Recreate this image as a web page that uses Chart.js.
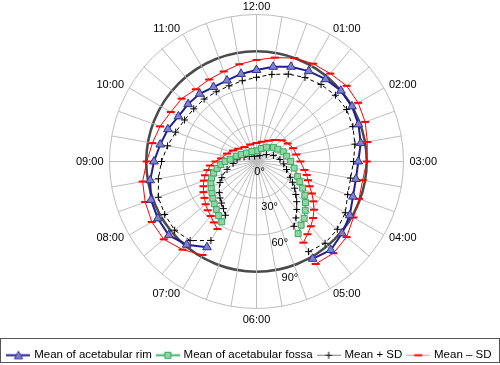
<!DOCTYPE html>
<html>
<head>
<meta charset="utf-8">
<script src="https://cdn.jsdelivr.net/npm/chart.js@4.4.1/dist/chart.umd.min.js"></script>
<style>
html,body{margin:0;padding:0;background:#ffffff;}
#wrap{width:500px;height:365px;position:relative;}
</style>
</head>
<body>
<div id="wrap"><canvas id="c" width="500" height="365"></canvas></div>
<script>
// ---- labels ----
const hourLabels = ['12:00','01:00','02:00','03:00','04:00','05:00','06:00','07:00','08:00','09:00','10:00','11:00'];
const tickValues = [0, 30, 60, 90];
const seriesNames = ['Mean of acetabular rim', 'Mean of acetabular fossa', 'Mean + SD', 'Mean \u2013 SD'];

// categories: rim every 20 min (10 deg), fossa every 10 min (5 deg)
const rimCategories = hourLabels.flatMap(h => ['00','20','40'].map(m => h.slice(0, 3) + m));
const fossaCategories = hourLabels.flatMap(h => ['00','10','20','30','40','50'].map(m => h.slice(0, 3) + m));

// ---- rim series (36 positions, clockwise from 12:00) ----
const rimMean = [74.7, 78.5, 82.3, 85.2, 87.7, 89.9, 90, 88.6, 86.4, 83.1, 82.4, 83.8, 87.9, 91.2, 94.3, 91.7,
  null, null, null, null, null,
  80.8, 88.7, 93.5, 93, 91.7, 88.1, 83.7, 79.8, 77, 73.6, 72.9, 72.2, 70.2, 70.4, 72.6];
const rimPlusSD = [68.7, 72.2, 75.9, 79.2, 82, 84.1, 84.9, 83.7, 81.6, 79.2, 78, 79.2, 83.7, 86.1, 87.1, 85,
  null, null, null, null, null,
  74.4, 84.3, 87.2, 86.5, 85.3, 81.3, 77.6, 73.7, 70.2, 67.8, 66.9, 66.5, 65.7, 65.7, 66.9];
const rimMinusSD = [82.9, 86.1, 89.9, 92.2, 93.7, 96.1, 95.8, 94.4, 91.9, 90, 88, 89.1, 91.4, 96, 97.7, 96.6,
  null, null, null, null, null,
  88.1, 93.9, 98.8, 98.7, 96.7, 94.4, 89.6, 86.3, 83.8, 80.8, 79.8, 77, 77.3, 78.2, 80.6];

// ---- fossa series (72 positions, clockwise from 12:00) ----
const fossaMean = [8.8, 9.4, 10, 10.6, 11.3, 12.1, 13.2, 14.2, 15.1, 16.6, 18, 19, 20.1, 21.6, 23.2, 24.1,
  25, 26.5, 27.9, 29.4, 31.2, 33.3, 35.7, 39, 43.4, 48.1, 52.2, 56.3, 60.6, 63.5, 68,
  null, null, null, null, null, null, null, null, null, null, null,
  56.8, 54, 51, 48.8, 46.6, 44.4, 42.7, 41.1, 39, 36.3, 32.7, 29.3, 25.7, 21.6, 19.4, 17.1,
  15, 13.7, 12.7, 11.5, 10.7, 10.4, 10, 9.6, 9.2, 9, 9, 9.1, 9.1, 9.3];
const fossaPlusSD = [4.3, 4.4, 4.5, 4.6, 4.7, 5.1, 5.5, 6, 6.7, 7.6, 8.6, 9.8, 11.3, 12.9, 14.7, 16.3,
  17.6, 19.2, 20.9, 22.3, 23.9, 25.4, 27.8, 30.4, 33.9, 38, 41.9, 46.4, 51.1, 56.2, 61.1,
  null, null, null, null, null, null, null, null, null, null, null,
  50.7, 47, 44.3, 42.1, 39.6, 37.1, 34.4, 31.2, 28.2, 24.9, 21.6, 19.2, 17.6, 15.9, 14, 12.6,
  10.8, 9.3, 8.2, 7.2, 6.4, 5.9, 5.4, 5.1, 4.9, 4.7, 4.6, 4.5, 4.4, 4.3];
const fossaMinusSD = [15.1, 15.5, 16.2, 16.7, 17.4, 18.1, 19.6, 20.9, 22.9, 25.1, 26.9, 28.3, 29.4, 30.7, 31.8, 32.3,
  33, 34.1, 35.9, 37.5, 39.7, 42.4, 44.7, 47.8, 52.2, 56.7, 61.2, 65.3, 69, 72.5, 76.5,
  null, null, null, null, null, null, null, null, null, null, null,
  63.7, 60.7, 58.1, 56.3, 54.3, 51.8, 50, 47.8, 45.7, 43.5, 40.5, 38, 33.5, 29, 26.9, 24.9,
  23.1, 21.2, 19.6, 18.2, 17, 16, 15.3, 14.9, 14.7, 14.7, 14.8, 14.9, 14.9, 15];

// ---- styles ----
const FONT = 'Liberation Sans, Arial, Helvetica, sans-serif';
const C = {
  rimLine: '#1f1f8f', rimFill: '#8080c8', rimEdge: '#30309a',
  fossaLine: '#3fb56e', fossaFill: '#8fd6a3', fossaEdge: '#3aa863',
  plus: '#000000', minus: '#ff0000',
  grid: '#bdbdbd', ring90: '#4a4a4a'
};

// marker thinning along the contour for the dense inner curves (style only)
function markerMask(values, stepDeg, minGap) {
  const n = values.length;
  const pts = values.map((v, i) => v == null ? null :
    {x: v * Math.sin(i * stepDeg * Math.PI / 180), y: -v * Math.cos(i * stepDeg * Math.PI / 180)});
  let start = pts.findIndex((p, i) => p && !pts[(i - 1 + n) % n]);
  if (start < 0) start = 0;
  const mask = new Array(n).fill(false);
  let acc = 0, prev = null, first = true;
  for (let k = 0; k < n; k++) {
    const i = (start + k) % n;
    const p = pts[i];
    if (!p) break;
    if (prev) acc += Math.hypot(p.x - prev.x, p.y - prev.y);
    if (first || acc >= minGap) { mask[i] = true; acc = 0; first = false; }
    prev = p;
  }
  return mask;
}
const maskFossa = markerMask(fossaMean, 5, 3.8);
const maskFossaPlus = markerMask(fossaPlusSD, 5, 4.2);
const maskFossaMinus = markerMask(fossaMinusSD, 5, 4.2);

// legend symbols (line + marker)
function legendSymbol(kind) {
  const cv = document.createElement('canvas');
  cv.width = 24; cv.height = 11;
  const g = cv.getContext('2d');
  const y = 5.5;
  g.lineCap = 'butt';
  if (kind === 0) {
    g.strokeStyle = C.rimLine; g.lineWidth = 2;
    g.beginPath(); g.moveTo(0, y); g.lineTo(24, y); g.stroke();
    g.fillStyle = C.rimFill; g.strokeStyle = C.rimEdge; g.lineWidth = 1;
    g.beginPath(); g.moveTo(12, 1.5); g.lineTo(16.2, 9); g.lineTo(7.8, 9); g.closePath(); g.fill(); g.stroke();
  } else if (kind === 1) {
    g.strokeStyle = C.fossaLine; g.lineWidth = 2;
    g.beginPath(); g.moveTo(0, y); g.lineTo(24, y); g.stroke();
    g.fillStyle = C.fossaFill; g.strokeStyle = C.fossaEdge; g.lineWidth = 1;
    g.fillRect(9, 2.5, 6, 6); g.strokeRect(9, 2.5, 6, 6);
  } else if (kind === 2) {
    g.strokeStyle = '#808080'; g.lineWidth = 1;
    g.beginPath(); g.moveTo(0, y); g.lineTo(24, y); g.stroke();
    g.strokeStyle = C.plus; g.lineWidth = 1;
    g.beginPath(); g.moveTo(8.5, y); g.lineTo(15.5, y); g.moveTo(12, 2); g.lineTo(12, 9); g.stroke();
  } else {
    g.strokeStyle = '#ff9090'; g.lineWidth = 1;
    g.beginPath(); g.moveTo(0, y); g.lineTo(24, y); g.stroke();
    g.strokeStyle = C.minus; g.lineWidth = 2;
    g.beginPath(); g.moveTo(8, y); g.lineTo(16, y); g.stroke();
  }
  return cv;
}
const legendSymbols = [0, 1, 2, 3].map(legendSymbol);

// radial geometry of the plot (center and radius of the 120 ring)
const GEOM = {cx: 256.5, cy: 161.5, radius: 147};
function placeScale(scale) {
  scale.xCenter = GEOM.cx;
  scale.yCenter = GEOM.cy;
  scale.drawingArea = GEOM.radius;
}

const overlay = {
  id: 'overlay',
  afterDraw(chart) {
    const ctx = chart.ctx;
    const s = chart.scales.r;
    ctx.save();
    ctx.fillStyle = '#000';
    // clock labels
    ctx.font = '11px ' + FONT;
    hourLabels.forEach((lab, h) => {
      const idx = h * 3;
      const p = s.getPointPosition(idx, s.drawingArea + 6);
      const deg = h * 30;
      if (deg === 0) { ctx.textAlign = 'center'; ctx.textBaseline = 'alphabetic'; ctx.fillText(lab, p.x, p.y + 1.5); }
      else if (deg === 180) { ctx.textAlign = 'center'; ctx.textBaseline = 'top'; ctx.fillText(lab, p.x, p.y - 0.5); }
      else if (deg < 180) { ctx.textAlign = 'left'; ctx.textBaseline = 'middle'; ctx.fillText(lab, p.x, p.y); }
      else { ctx.textAlign = 'right'; ctx.textBaseline = 'middle'; ctx.fillText(lab, p.x, p.y); }
    });
    // radial tick labels along a ray toward ~05:30
    const th = 164 * Math.PI / 180;
    ctx.textAlign = 'center'; ctx.textBaseline = 'middle';
    tickValues.forEach(v => {
      const d = s.getDistanceFromCenterForValue(v) + 11;
      ctx.fillText(v + '\u00b0', s.xCenter + d * Math.sin(th), s.yCenter - d * Math.cos(th));
    });
    // legend frame
    const lg = chart.legend;
    if (lg) {
      const mid = lg.top + lg.options.labels.padding + 11.5 / 2;
      ctx.strokeStyle = '#555';
      ctx.lineWidth = 1;
      ctx.strokeRect(0.5, Math.round(mid - 17) + 0.5, 499, 24);
    }
    ctx.restore();
  }
};

const chart = new Chart(document.getElementById('c'), {
  type: 'radar',
  data: {
    labels: rimCategories,
    datasets: [
      { label: seriesNames[0], data: rimMean, rAxisID: 'r',
        borderColor: C.rimLine, borderWidth: 2, fill: false, tension: 0, spanGaps: false,
        pointStyle: 'triangle', pointRadius: 5, pointBackgroundColor: C.rimFill,
        pointBorderColor: C.rimEdge, pointBorderWidth: 1 },
      { label: seriesNames[1], data: fossaMean, rAxisID: 'r2',
        borderColor: C.fossaLine, borderWidth: 1.5, fill: false, tension: 0, spanGaps: false,
        pointStyle: 'rect', pointRadius: (c) => maskFossa[c.dataIndex] ? 4.2 : 0,
        pointBackgroundColor: C.fossaFill, pointBorderColor: C.fossaEdge, pointBorderWidth: 1 },
      { label: seriesNames[2], data: rimPlusSD, rAxisID: 'r',
        borderColor: C.plus, borderWidth: 1, borderDash: [4, 3], fill: false, tension: 0, spanGaps: false,
        pointStyle: 'cross', pointRadius: 3.5, pointBorderColor: C.plus, pointBackgroundColor: C.plus, pointBorderWidth: 1 },
      { label: seriesNames[3], data: rimMinusSD, rAxisID: 'r',
        borderColor: C.minus, borderWidth: 1, fill: false, tension: 0, spanGaps: false,
        pointStyle: 'line', pointRadius: 4, pointBorderColor: C.minus, pointBorderWidth: 2 },
      { label: seriesNames[2] + ' (fossa)', data: fossaPlusSD, rAxisID: 'r2',
        borderColor: C.plus, borderWidth: 1, borderDash: [4, 3], fill: false, tension: 0, spanGaps: false,
        pointStyle: 'cross', pointRadius: (c) => maskFossaPlus[c.dataIndex] ? 3.5 : 0,
        pointBorderColor: C.plus, pointBackgroundColor: C.plus, pointBorderWidth: 1 },
      { label: seriesNames[3] + ' (fossa)', data: fossaMinusSD, rAxisID: 'r2',
        borderColor: C.minus, borderWidth: 1, fill: false, tension: 0, spanGaps: false,
        pointStyle: 'line', pointRadius: (c) => maskFossaMinus[c.dataIndex] ? 4 : 0,
        pointBorderColor: C.minus, pointBorderWidth: 2 }
    ]
  },
  options: {
    responsive: false,
    devicePixelRatio: 1,
    animation: false,
    layout: { padding: { left: 0, right: 0, top: 0, bottom: -6 } },
    elements: { point: { hoverRadius: 0 } },
    scales: {
      r: {
        type: 'radialLinear', axis: 'r',
        labels: rimCategories,
        min: 0, max: 120,
        ticks: { display: false, stepSize: 30 },
        pointLabels: { display: false },
        grid: {
          circular: true,
          color: (c) => (c.tick && c.tick.value === 90) ? C.ring90 : C.grid,
          lineWidth: (c) => (c.tick && c.tick.value === 90) ? 2.5 : 1
        },
        angleLines: { display: true, color: C.grid, lineWidth: 1 },
        afterFit: placeScale
      },
      r2: {
        type: 'radialLinear', axis: 'r',
        labels: fossaCategories,
        display: false,
        min: 0, max: 120,
        ticks: { display: false, stepSize: 30 },
        pointLabels: { display: false },
        grid: { display: false },
        angleLines: { display: false },
        afterFit: placeScale
      }
    },
    plugins: {
      tooltip: { enabled: false },
      legend: {
        display: true,
        position: 'bottom',
        align: 'center',
        labels: {
          usePointStyle: true,
          pointStyleWidth: 20,
          padding: 6,
          color: '#000',
          font: { family: FONT, size: 11.5 },
          generateLabels: () => seriesNames.map((name, k) => ({
            text: name, pointStyle: legendSymbols[k], datasetIndex: k, hidden: false,
            fillStyle: 'rgba(0,0,0,0)', strokeStyle: 'rgba(0,0,0,0)', lineWidth: 0, fontColor: '#000'
          }))
        }
      }
    }
  },
  plugins: [overlay]
});
</script>
</body>
</html>
